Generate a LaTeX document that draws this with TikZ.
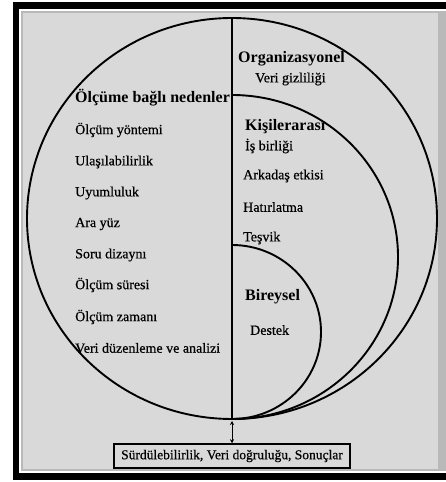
\documentclass[tikz,border=0pt]{standalone}
\usepackage{fontspec}
\setmainfont{Liberation Serif}
\newfontfamily\heavyfont[FakeBold=0.6]{Liberation Serif}
\usetikzlibrary{shapes.geometric,arrows.meta}
\definecolor{panelgray}{gray}{0.85}

\begin{document}
\begin{tikzpicture}[x=1pt, y=1pt,
    curve/.style={line width=1.9pt},
    head/.style={anchor=west, inner sep=0pt, font=\fontsize{16}{18}\selectfont\bfseries},
    item/.style={anchor=west, inner sep=0pt, font=\heavyfont\fontsize{14}{16}\selectfont}]
    \useasboundingbox (0,0) rectangle (445,482);

    % Frame
    \fill[black] (13,2) rectangle (452,480);
    \fill[white] (19,9) rectangle (452,473);
    \fill[gray!55] (21,11) rectangle (452,471);
    \fill[panelgray] (23,13) rectangle (438,469);

    % Circles
    \node[draw, ellipse, curve, minimum width=410, minimum height=401, inner sep=0pt, outer sep=0pt] (outer) at (232,263.5) {};
    \draw[curve] (outer.south) arc[start angle=-90, end angle=90, x radius=166, y radius=162];
    \draw[curve] (outer.south) arc[start angle=-90, end angle=90, x radius=89, y radius=87];
    \draw[curve] (outer.north) -- (outer.south);

    % Left half
    \node[head] (olcume) at (75,384) {Ölçüme bağlı nedenler};
    \node[item] (yontem) at (75,352) {Ölçüm yöntemi};
    \node[item] (ulasim) at (75,320) {Ulaşılabilirlik};
    \node[item] (uyum) at (75,289) {Uyumluluk};
    \node[item] (arayuz) at (75,258) {Ara yüz};
    \node[item] (soru) at (75,227) {Soru dizaynı};
    \node[item] (sure) at (75,197) {Ölçüm süresi};
    \node[item] (zaman) at (75,165) {Ölçüm zamanı};
    \node[item] (veri) at (75,134) {Veri düzenleme ve analizi};

    % Right half
    \node[head] (org) at (238,423) {Organizasyonel};
    \node[item] (gizli) at (255,403) {Veri gizliliği};
    \node[head] (kisi) at (245,355) {Kişilerarası};
    \node[item] (isbir) at (245,336) {İş birliği};
    \node[item] (arkadas) at (243,306) {Arkadaş etkisi};
    \node[item] (hatir) at (243,275) {Hatırlatma};
    \node[item] (tesvik) at (243,244) {Teşvik};
    \node[head] (birey) at (245,185) {Bireysel};
    \node[item] (destek) at (250,152) {Destek};

    % Result
    \node[draw, line width=1.5pt, fill=panelgray, minimum width=236, minimum height=24, inner sep=0pt,
        font=\heavyfont\fontsize{13.5}{15}\selectfont] (result) at (232,26) {Sürdülebilirlik, Veri doğruluğu, Sonuçlar};
    \draw[{Stealth[length=4pt,width=4pt]}-{Stealth[length=4pt,width=4pt]}, line width=1pt]
        ([yshift=-2pt]outer.south) -- (result.north);
\end{tikzpicture}
\end{document}
